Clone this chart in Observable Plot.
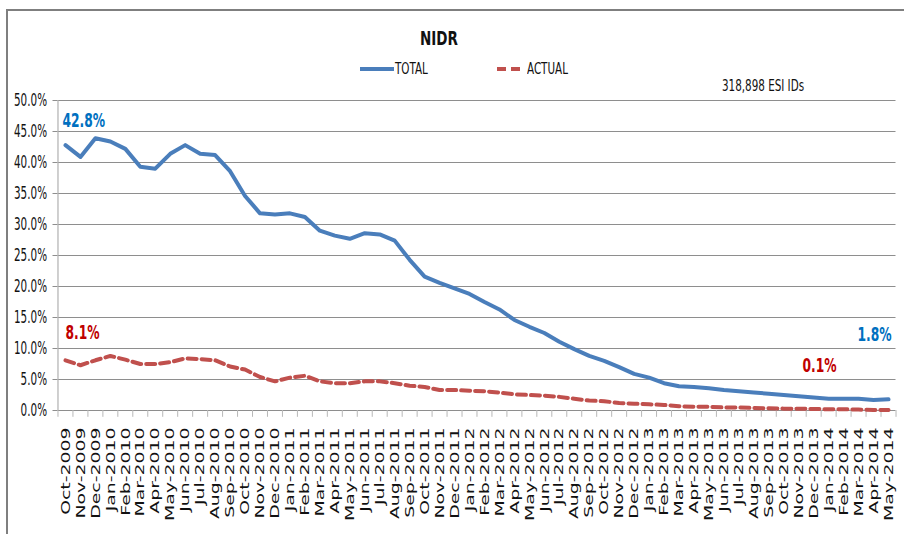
<!DOCTYPE html>
<html><head><meta charset="utf-8">
<script src="https://cdn.jsdelivr.net/npm/d3@7"></script>
<script src="https://cdn.jsdelivr.net/npm/@observablehq/plot@0.6"></script>
<style>
body{margin:0;background:#fff;}
#wrap{position:relative;width:904px;height:534px;overflow:hidden;font-family:"DejaVu Sans Condensed","Liberation Sans Narrow",sans-serif;color:#111;}
#border{position:absolute;left:6px;top:9px;right:-4px;bottom:-5px;border-top:2px solid #7f7f7f;border-left:2px solid #7f7f7f;}
.t{position:absolute;white-space:nowrap;line-height:1;}
.sq{transform:scaleX(0.72);transform-origin:0 0;}
#chart{position:absolute;left:0;top:90px;}
</style></head>
<body>
<div id="wrap">
  <div id="border"></div>
  <div class="t" style="left:420px;top:28px;font-size:20px;font-weight:bold;transform:scaleX(0.75);transform-origin:0 0;">NIDR</div>
  <svg class="t" style="left:358px;top:64px" width="40" height="10"><line x1="2" x2="36" y1="5" y2="5" stroke="#4A7EBB" stroke-width="4"/></svg>
  <div class="t sq" style="left:395px;top:61px;font-size:16px;">TOTAL</div>
  <svg class="t" style="left:494px;top:64px" width="32" height="10"><line x1="3" x2="26" y1="5" y2="5" stroke="#C0504D" stroke-width="4" stroke-dasharray="9,5"/></svg>
  <div class="t sq" style="left:527px;top:61px;font-size:16px;">ACTUAL</div>
  <div class="t sq" style="left:722px;top:78px;font-size:16px;">318,898 ESI IDs</div>
  <div id="chart"></div>
</div>
<script>
const months = ["Oct-2009","Nov-2009","Dec-2009","Jan-2010","Feb-2010","Mar-2010","Apr-2010","May-2010","Jun-2010","Jul-2010","Aug-2010","Sep-2010",
"Oct-2010","Nov-2010","Dec-2010","Jan-2011","Feb-2011","Mar-2011","Apr-2011","May-2011","Jun-2011","Jul-2011","Aug-2011","Sep-2011",
"Oct-2011","Nov-2011","Dec-2011","Jan-2012","Feb-2012","Mar-2012","Apr-2012","May-2012","Jun-2012","Jul-2012","Aug-2012","Sep-2012",
"Oct-2012","Nov-2012","Dec-2012","Jan-2013","Feb-2013","Mar-2013","Apr-2013","May-2013","Jun-2013","Jul-2013","Aug-2013","Sep-2013",
"Oct-2013","Nov-2013","Dec-2013","Jan-2014","Feb-2014","Mar-2014","Apr-2014","May-2014"];
const total = [42.8,40.9,43.9,43.4,42.2,39.3,39.0,41.4,42.8,41.4,41.2,38.6,
34.6,31.8,31.6,31.8,31.2,29.0,28.2,27.7,28.6,28.4,27.4,24.3,
21.6,20.6,19.7,18.8,17.5,16.3,14.6,13.5,12.5,11.1,9.9,8.8,
8.0,7.0,5.9,5.3,4.4,3.9,3.8,3.6,3.3,3.1,2.9,2.7,
2.5,2.3,2.1,1.9,1.9,1.9,1.7,1.8];
const actual = [8.1,7.3,8.1,8.8,8.2,7.5,7.5,7.8,8.4,8.3,8.1,7.1,
6.6,5.4,4.7,5.3,5.6,4.7,4.4,4.4,4.7,4.7,4.4,4.0,
3.8,3.3,3.3,3.2,3.1,2.9,2.6,2.5,2.4,2.2,1.9,1.6,
1.5,1.2,1.1,1.0,0.9,0.7,0.6,0.6,0.5,0.5,0.4,0.35,
0.3,0.3,0.25,0.2,0.2,0.15,0.1,0.1];
const yTicks = [0,5,10,15,20,25,30,35,40,45,50];
const yTickLabels = ["0.0%","5.0%","10.0%","15.0%","20.0%","25.0%","30.0%","35.0%","40.0%","45.0%","50.0%"];
const seriesNames = ["TOTAL","ACTUAL"];
const labelTexts = ["42.8%","8.1%","1.8%","0.1%"];

const totalRows = months.map((m,i)=>({month:m, value:total[i], series:seriesNames[0]}));
const actualRows = months.map((m,i)=>({month:m, value:actual[i], series:seriesNames[1]}));
const first = 0, last = months.length-1;
const annFont = {fontSize:19, fontWeight:"600"};

const chart = Plot.plot({
  width:904, height:444,
  marginTop:10, marginBottom:124, marginLeft:57.5, marginRight:8.5,
  style:{fontFamily:'"DejaVu Sans Condensed","Liberation Sans Narrow",sans-serif', color:"#111", background:"transparent"},
  x:{type:"band", domain:months, padding:0, label:null},
  y:{domain:[0,50], label:null},
  marks:[
    Plot.gridY(yTicks, {stroke:"#8e8e8e", strokeOpacity:1, strokeWidth:1.2}),
    Plot.axisY(yTicks, {tickSize:5, tickPadding:6, stroke:"#8e8e8e", tickFormat:(d)=>yTickLabels[yTicks.indexOf(d)], fontSize:17, label:null}),
    Plot.ruleX([months[first]], {dx:-7.5, y1:0, y2:50, stroke:"#b0b0b0", strokeWidth:1.2}),
    Plot.ruleX(months, {x:d=>d, dx:-7.5, y1:0, y2:-1.1, stroke:"#b8b8b8"}),
    Plot.ruleX([months[last]], {x:d=>d, dx:7.5, y1:0, y2:-1.1, stroke:"#b8b8b8"}),
    Plot.axisX({tickSize:0, tickPadding:17, tickRotate:-90, fontSize:13, fontFamily:"DejaVu Sans", label:null}),
    Plot.line(totalRows, {x:"month", y:"value", stroke:"#4A7EBB", strokeWidth:4, strokeLinejoin:"round"}),
    Plot.line(actualRows, {x:"month", y:"value", stroke:"#C0504D", strokeWidth:4, strokeDasharray:"9,5"}),
    Plot.text([totalRows[first]], {x:"month", y:"value", text:()=>labelTexts[0], dx:-3, dy:-24, textAnchor:"start", fill:"#0070C0", ...annFont}),
    Plot.text([actualRows[first]], {x:"month", y:"value", text:()=>labelTexts[1], dx:0, dy:-27, textAnchor:"start", fill:"#C00000", ...annFont}),
    Plot.text([totalRows[last]], {x:"month", y:"value", text:()=>labelTexts[2], dx:3, dy:-64, textAnchor:"end", fill:"#0070C0", ...annFont}),
    Plot.text([actualRows[last]], {x:"month", y:"value", text:()=>labelTexts[3], dx:-52, dy:-44, textAnchor:"end", fill:"#C00000", ...annFont})
  ]
});
document.getElementById("chart").appendChild(chart);
const svg = d3.select(chart.tagName.toLowerCase()==="svg" ? chart : chart.querySelector("svg"));
const addScale = (sel, s) => sel.attr("transform", function(){ return (this.getAttribute("transform")||"") + " " + s; });
addScale(svg.selectAll('g[aria-label="x-axis tick label"] text'), "scale(1.45,1)");
addScale(svg.selectAll('g[aria-label="y-axis tick label"] text'), "scale(0.68,1)");
addScale(svg.selectAll('g[aria-label="text"] text'), "scale(0.72,1)");
</script>
</body></html>
